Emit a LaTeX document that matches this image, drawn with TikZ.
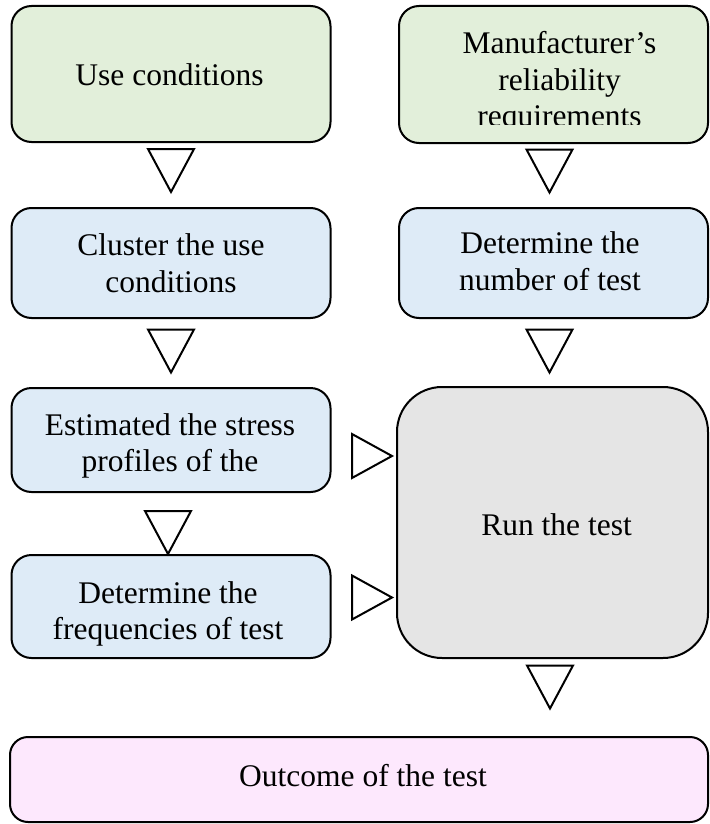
\documentclass[tikz,border=0pt]{standalone}
\usepackage{fontspec}
\setmainfont{Liberation Serif}
\usetikzlibrary{calc}
\definecolor{cgreen}{HTML}{E2EFDA}
\definecolor{cblue}{HTML}{DEEBF7}
\definecolor{cgray}{HTML}{E5E5E5}
\definecolor{cpink}{HTML}{FDE8FD}
\tikzset{
  box/.style={draw=black, line width=2pt, rounded corners=20pt, inner sep=0pt},
  tri/.style={draw=black, line width=2pt, fill=white, line join=miter},
  txt/.style={inner sep=0pt, align=center, font=\fontsize{31.5}{36.5}\selectfont}
}
\newcommand\downtri[1]{\draw[tri] ($#1+(-23,-21.5)$) -- ($#1+(23,-21.5)$) -- ($#1+(0,21.5)$) -- cycle;}
\newcommand\righttri[1]{\draw[tri] ($#1+(-20,-22)$) -- ($#1+(20,0)$) -- ($#1+(-20,22)$) -- cycle;}
\begin{document}
\begin{tikzpicture}[x=1pt, y=-1pt]
\useasboundingbox (0,0) rectangle (709,824);
% boxes
\node[box, fill=cgreen, minimum width=319pt, minimum height=136pt] (use) at (171,74) {};
\node[box, fill=cgreen, minimum width=309pt, minimum height=137pt] (manu) at (553.5,74.5) {};
\node[box, fill=cblue, minimum width=319pt, minimum height=110pt] (cluster) at (171,263) {};
\node[box, fill=cblue, minimum width=309pt, minimum height=110pt] (number) at (553.5,263) {};
\node[box, fill=cblue, minimum width=319pt, minimum height=104pt] (est) at (171,440) {};
\node[box, fill=cblue, minimum width=319pt, minimum height=103pt] (freq) at (171,606.5) {};
\node[box, fill=cgray, rounded corners=45pt, minimum width=311pt, minimum height=271pt] (run) at (552.5,522.5) {};
\node[box, fill=cpink, rounded corners=18pt, minimum width=698pt, minimum height=85pt] (out) at (359,779.5) {};
% texts
\node[txt, anchor=base] (usetxt) at (169.5,86) {Use conditions};
\begin{scope}
  \clip (399,6) rectangle (708,125);
  \node[txt, anchor=north] (manutxt) at (559.5,31.5) {Manufacturer’s\\reliability\\requirements};
\end{scope}
\node[txt] (clustertxt) at (171,263) {Cluster the use\\conditions};
\node[txt] (numbertxt) at (550,261) {Determine the\\number of test};
\node[txt] (esttxt) at (170,446) {Estimated the stress\\profiles of the};
\node[txt] (freqtxt) at (168,614) {Determine the\\frequencies of test};
\node[txt, anchor=base] (runtxt) at (556.5,535) {Run the test};
\node[txt, anchor=base] (outtxt) at (363,786) {Outcome of the test};
% markers
\downtri{(171,170.5)}
\downtri{(549.5,171)}
\downtri{(171,351)}
\downtri{(549.5,351)}
\downtri{(168,532.5)}
\downtri{(550,687)}
\righttri{(372,456)}
\righttri{(372,597.5)}
\end{tikzpicture}
\end{document}
